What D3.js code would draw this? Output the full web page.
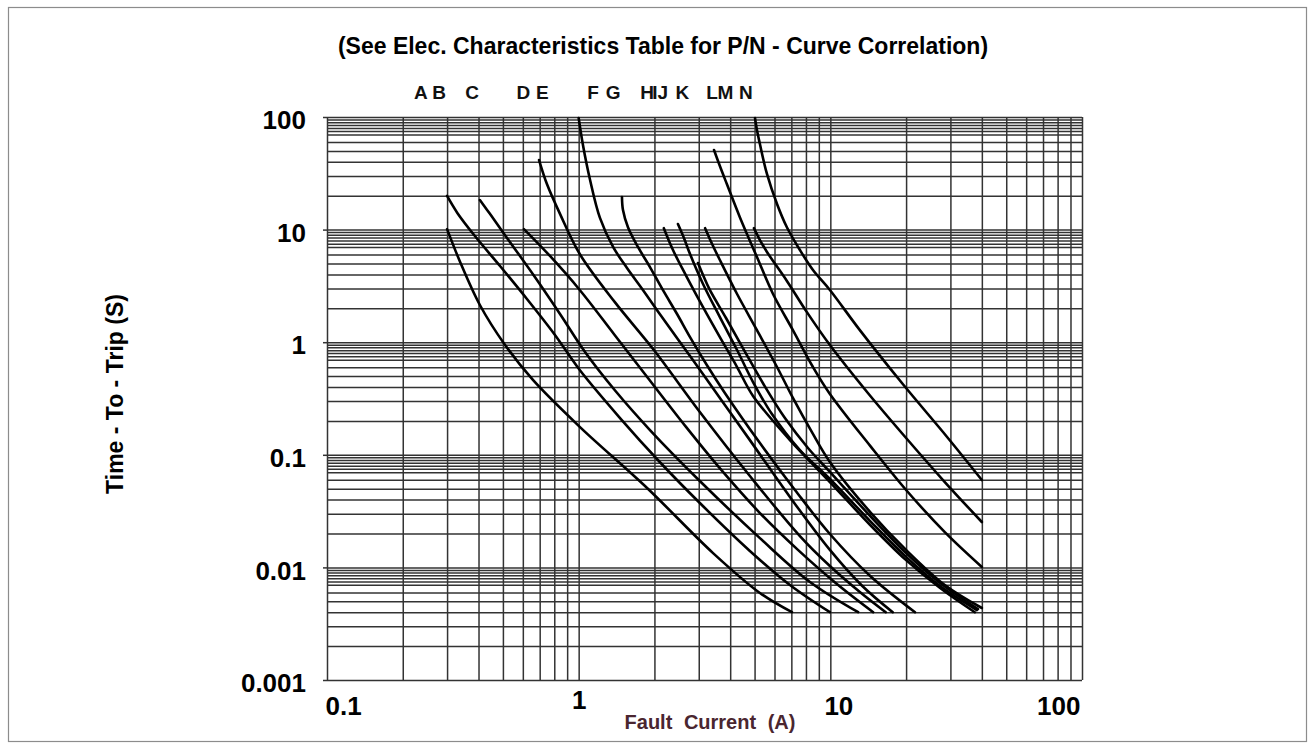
<!DOCTYPE html>
<html>
<head>
<meta charset="utf-8">
<script src="https://cdnjs.cloudflare.com/ajax/libs/d3/7.8.5/d3.min.js"></script>
<style>
  html, body { margin: 0; padding: 0; background: #fff; }
  svg { display: block; font-family: 'Liberation Sans', Arial, sans-serif; }
</style>
</head>
<body>
<div id="chart"></div>
<script>
// axis ticks
const currentTicks = [0.1, 1, 10, 100];
const currentTickLabels = ['0.1', '1', '10', '100'];
const timeTicks = [0.001, 0.01, 0.1, 1, 10, 100];
const timeTickLabels = ['0.001', '0.01', '0.1', '1', '10', '100'];
const currentGridSteps = [1, 2, 3, 4, 5, 6, 7, 8, 9];
const timeGridSteps = [1, 2, 3, 4, 5, 6, 7, 7.5, 8, 8.5, 9, 9.5];

// curve letters and the current they sit above
const curveNames = ['A', 'B', 'C', 'D', 'E', 'F', 'G', 'H', 'I', 'J', 'K', 'L', 'M', 'N'];
const curveLabelCurrent = [0.236, 0.279, 0.377, 0.603, 0.718, 1.14, 1.37, 1.87, 2.01, 2.16, 2.58, 3.39, 3.83, 4.62];

// [fault current (A), time to trip (s)]
const curveA = [[0.30, 10.1], [0.338, 5.16], [0.405, 2.14], [0.51, 0.944], [0.658, 0.462], [1.01, 0.177], [1.87, 0.0507], [3.42, 0.0134], [5.25, 0.00593], [7.04, 0.0040]];
const curveB = [[0.30, 19.9], [0.33, 14.0], [0.387, 8.77], [0.487, 4.75], [0.623, 2.42], [0.805, 1.16], [1.01, 0.566], [1.46, 0.212], [2.10, 0.0863], [3.03, 0.0373], [4.79, 0.0140], [6.91, 0.00698], [9.96, 0.0040]];
const curveC = [[0.405, 18.3], [0.444, 13.8], [0.533, 7.76], [0.670, 3.79], [0.843, 1.78], [1.06, 0.818], [1.39, 0.376], [1.92, 0.166], [3.03, 0.0585], [5.25, 0.0182], [8.30, 0.00742], [12.9, 0.0040]];
const curveD = [[0.606, 10.1], [0.769, 5.83], [1.01, 2.91], [1.39, 1.16], [1.885, 0.481], [2.67, 0.177], [3.745, 0.0704], [5.25, 0.0304], [7.435, 0.0143], [10.5, 0.00727], [14.8, 0.0040]];
const curveE = [[0.696, 41.5], [0.748, 25.4], [0.843, 13.8], [1.01, 6.07], [1.39, 2.28], [1.99, 0.852], [3.03, 0.240], [4.79, 0.0648], [7.57, 0.0190], [9.96, 0.0103], [13.1, 0.00605], [16.6, 0.0040]];
const curveF = [[1.0, 98], [1.04, 56.4], [1.11, 27.6], [1.215, 12.7], [1.37, 7.01], [1.556, 4.56], [1.80, 2.91], [2.10, 1.78], [2.77, 0.754], [3.64, 0.320], [4.79, 0.135], [6.91, 0.0422], [9.96, 0.0143], [13.4, 0.00684], [17.7, 0.0040]];
const curveG = [[1.486, 19.5], [1.50, 14.9], [1.57, 10.5], [1.72, 7.01], [1.92, 4.65], [2.16, 2.91], [2.46, 1.78], [2.77, 1.11], [3.23, 0.627], [3.81, 0.354], [5.25, 0.127], [7.235, 0.0487], [9.96, 0.0198], [14.4, 0.00839], [21.7, 0.0040]];
const curveH = [[2.18, 10.3], [2.37, 6.59], [2.69, 3.79], [3.12, 2.05], [3.64, 1.11], [4.26, 0.602], [4.93, 0.333], [6.91, 0.135], [9.96, 0.0573], [14.4, 0.0238], [20.0, 0.0116], [27.3, 0.00656], [37.5, 0.0040]];
const curveI = [[2.48, 11.2], [2.62, 8.42], [2.77, 6.07], [3.12, 3.29], [3.64, 1.67], [4.26, 0.852], [4.93, 0.443], [5.86, 0.230], [7.57, 0.110], [9.96, 0.0610], [14.4, 0.0258], [20.0, 0.0124], [27.3, 0.00684], [38.2, 0.00418]];
const curveJ = [[2.98, 5.05], [3.12, 3.95], [3.32, 2.91], [3.85, 1.64], [4.54, 0.852], [5.45, 0.417], [6.60, 0.212], [8.15, 0.115], [9.96, 0.0704], [14.4, 0.0286], [20.0, 0.0134], [27.3, 0.00727], [38.6, 0.00427]];
const curveK = [[3.18, 10.3], [3.39, 7.45], [3.64, 5.37], [4.26, 2.68], [5.11, 1.28], [6.14, 0.602], [7.10, 0.320], [8.45, 0.159], [9.96, 0.0863], [14.4, 0.0310], [20.0, 0.0143], [28.5, 0.00698], [40.0, 0.00436]];
const curveL = [[3.45, 50.9], [3.64, 36.7], [3.88, 25.4], [4.37, 12.9], [5.11, 5.71], [5.92, 2.68], [7.10, 1.28], [8.53, 0.602], [9.96, 0.347], [14.4, 0.120], [20.0, 0.0487], [28.5, 0.0206], [40.0, 0.0101]];
const curveM = [[5.02, 98], [5.11, 76.6], [5.25, 57.6], [5.60, 31.2], [6.14, 16.9], [6.72, 10.5], [7.57, 6.59], [8.53, 4.38], [9.96, 2.91], [13.1, 1.28], [19.4, 0.425], [29.1, 0.144], [40.0, 0.0597]];
const curveN = [[4.97, 10.3], [5.25, 8.08], [5.60, 6.33], [6.72, 3.50], [8.07, 1.85], [9.96, 0.944], [14.1, 0.354], [20.0, 0.141], [28.5, 0.0573], [40.0, 0.0253]];

const curves = [curveA, curveB, curveC, curveD, curveE, curveF, curveG, curveH, curveI, curveJ, curveK, curveL, curveM, curveN];

const width = 1314;
const height = 745;
const plot = { left: 327, right: 1082, top: 117, bottom: 680 };

const svg = d3.select('#chart').append('svg')
  .attr('width', width)
  .attr('height', height);

// outer picture border
svg.append('rect')
  .attr('x', 8.5).attr('y', 7.5)
  .attr('width', 1298).attr('height', 734)
  .attr('fill', '#fff')
  .attr('stroke', '#8c8c8c')
  .attr('stroke-width', 1.2);

const scaleX = d3.scaleLog().domain([0.1, 100]).range([plot.left, plot.right]);
const scaleY = d3.scaleLog().domain([0.001, 100]).range([plot.bottom, plot.top]);

function gridValues(decades, steps, last) {
  const vals = [];
  decades.forEach(d => steps.forEach(s => vals.push(+(d * s).toPrecision(6))));
  vals.push(last);
  return vals;
}

function renderGrid() {
  const xGrid = gridValues([0.1, 1, 10], currentGridSteps, 100);
  const yGrid = gridValues([0.001, 0.01, 0.1, 1, 10], timeGridSteps, 100);

  const bottomAxis = d3.axisBottom(scaleX)
    .tickValues(xGrid)
    .tickSize(-(plot.bottom - plot.top))
    .tickFormat('');

  svg.append('g')
    .attr('class', 'grid-x')
    .attr('transform', `translate(0, ${plot.bottom})`)
    .call(bottomAxis);

  const leftAxis = d3.axisLeft(scaleY)
    .tickValues(yGrid)
    .tickSize(-(plot.right - plot.left))
    .tickFormat('');

  svg.append('g')
    .attr('class', 'grid-y')
    .attr('transform', `translate(${plot.left}, 0)`)
    .call(leftAxis);

  svg.selectAll('.grid-x .domain, .grid-y .domain').remove();
  svg.selectAll('.grid-x line, .grid-y line')
    .attr('stroke', '#333')
    .attr('stroke-width', 1.5);
}

function renderCurves() {
  const line = d3.line()
    .x(d => scaleX(d[0]))
    .y(d => scaleY(d[1]))
    .curve(d3.curveCatmullRom.alpha(0.5));

  svg.append('g')
    .selectAll('path')
    .data(curves)
    .enter()
    .append('path')
    .attr('d', d => line(d))
    .attr('fill', 'none')
    .attr('stroke', '#000')
    .attr('stroke-width', 2.6)
    .attr('stroke-linecap', 'round');
}

function renderAxes() {
  // time labels with short stubs outside the left edge
  const timeAxis = d3.axisLeft(scaleY)
    .tickValues(timeTicks)
    .tickSize(4)
    .tickPadding(17)
    .tickFormat((d, i) => timeTickLabels[i]);

  const gy = svg.append('g')
    .attr('transform', `translate(${plot.left}, 0)`)
    .call(timeAxis);
  gy.select('.domain').remove();
  gy.selectAll('line').attr('stroke', '#333').attr('stroke-width', 1.5);
  gy.selectAll('text')
    .attr('dy', '0.45em')
    .attr('fill', '#000')
    .style('font-size', '26px')
    .style('font-weight', 'bold');

  const currentAxis = d3.axisBottom(scaleX)
    .tickValues(currentTicks)
    .tickSize(0)
    .tickPadding(17)
    .tickFormat((d, i) => currentTickLabels[i]);

  const gx = svg.append('g')
    .attr('transform', `translate(0, ${plot.bottom})`)
    .call(currentAxis);
  gx.select('.domain').remove();

  const last = currentTicks.length - 1;
  gx.selectAll('text')
    .attr('fill', '#000')
    .style('font-size', '26px')
    .style('font-weight', 'bold')
    .attr('text-anchor', (d, i) => (i === 0 ? 'start' : i === last ? 'end' : 'middle'))
    .attr('dx', (d, i) => (i === 0 || i === last ? -2 : i === 2 ? 8 : 0))
    .attr('dy', (d, i) => (i === 1 ? '0.48em' : '0.71em'));

  svg.append('text')
    .attr('x', 710)
    .attr('y', 729)
    .attr('text-anchor', 'middle')
    .attr('fill', '#4a2630')
    .style('font-size', '20px')
    .style('font-weight', 'bold')
    .style('word-spacing', '6px')
    .text('Fault Current (A)');

  svg.append('text')
    .attr('transform', 'translate(123, 394) rotate(-90)')
    .attr('text-anchor', 'middle')
    .attr('fill', '#000')
    .style('font-size', '23px')
    .style('font-weight', 'bold')
    .text('Time - To - Trip (S)');
}

function renderTitles() {
  svg.append('text')
    .attr('x', 663)
    .attr('y', 54)
    .attr('text-anchor', 'middle')
    .attr('fill', '#000')
    .style('font-size', '23px')
    .style('font-weight', 'bold')
    .text('(See Elec. Characteristics Table for P/N - Curve Correlation)');

  svg.append('g')
    .selectAll('text')
    .data(curveNames)
    .enter()
    .append('text')
    .attr('x', (d, i) => scaleX(curveLabelCurrent[i]))
    .attr('y', 99)
    .attr('text-anchor', 'middle')
    .attr('fill', '#111')
    .style('font-size', '19px')
    .style('font-weight', 'bold')
    .text(d => d);
}

renderGrid();
renderCurves();
renderAxes();
renderTitles();
</script>
</body>
</html>
